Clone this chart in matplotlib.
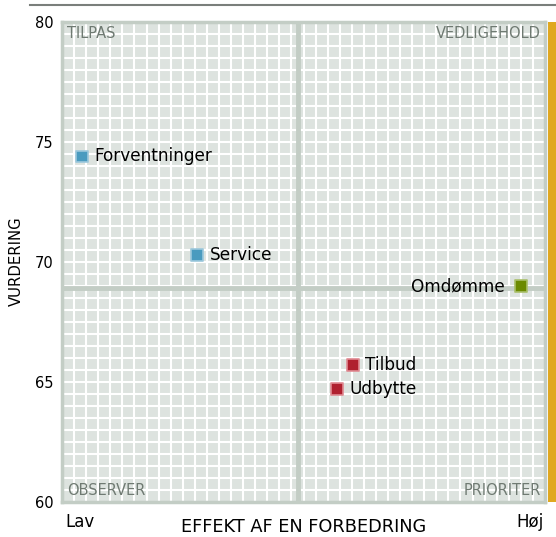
import matplotlib.pyplot as plt
import numpy as np
from matplotlib.patches import Rectangle

# data
names = ["Forventninger", "Service", "Omdømme", "Tilbud", "Udbytte"]
effekt = [4.1, 28.0, 95.0, 60.2, 56.9]
vurdering = [74.4, 70.3, 69.0, 65.7, 64.7]
colors = ["#4a9bbf", "#4a9bbf", "#6b8a00", "#b0202f", "#b0202f"]
edges = ["#9cc8dc", "#9cc8dc", "#a9bf6a", "#e08a92", "#e08a92"]
quadrants = ["TILPAS", "VEDLIGEHOLD", "OBSERVER", "PRIORITER"]
yticks = [60, 65, 70, 75, 80]
x_split, y_split = 48.9, 68.9

fig = plt.figure(figsize=(5.56, 5.37), dpi=100)
ax = fig.add_axes([62/556, 35/537, 483/556, 480/537])
ax.set_xlim(0, 100)
ax.set_ylim(60, 80)
ax.set_facecolor("#dde3df")

# white grid
for gx in np.arange(2.5, 100, 2.5):
    ax.axvline(gx, color="white", lw=1.5, zorder=1)
for gy in np.arange(60.5, 80, 0.5):
    ax.axhline(gy, color="white", lw=1.5, zorder=1)

# quadrant dividers
ax.axvline(x_split, color="#c3cdc5", lw=3.5, zorder=2)
ax.axhline(y_split, color="#c3cdc5", lw=3.5, zorder=2)

for s in ax.spines.values():
    s.set_color("#c3cdc5")
    s.set_linewidth(2.5)

ax.scatter(effekt, vurdering, marker="s", s=70, c=colors, edgecolors=edges,
           linewidths=1.2, zorder=5)
for i, n in enumerate(names):
    if n == "Omdømme":
        ax.text(effekt[i] - 3.3, vurdering[i], n, ha="right", va="center",
                fontsize=12.2, zorder=6)
    else:
        ax.text(effekt[i] + 2.6, vurdering[i], n, ha="left", va="center",
                fontsize=12.2, zorder=6)

qc = "#6f7a72"
qfs = 10.5
ax.text(1.0, 79.85, quadrants[0], ha="left", va="top", fontsize=qfs, color=qc, zorder=6)
ax.text(99.2, 79.85, quadrants[1], ha="right", va="top", fontsize=qfs, color=qc, zorder=6)
ax.text(1.0, 60.15, quadrants[2], ha="left", va="bottom", fontsize=qfs, color=qc, zorder=6)
ax.text(99.2, 60.15, quadrants[3], ha="right", va="bottom", fontsize=qfs, color=qc, zorder=6)

ax.set_xticks([])
ax.set_yticks(yticks)
ax.set_yticklabels([str(t) for t in yticks], fontsize=10.5)
ax.tick_params(axis="y", length=0, pad=6)

fig.text(16/556, 1 - 261/537, "VURDERING", rotation=90, ha="center", va="center", fontsize=10.7)
fig.text(304/556, 1 - 527/537, "EFFEKT AF EN FORBEDRING", ha="center", va="center", fontsize=12.8)
fig.text(80/556, 1 - 522/537, "Lav", ha="center", va="center", fontsize=12)
fig.text(530/556, 1 - 522/537, "Høj", ha="center", va="center", fontsize=12)

# orange bar and top rule
fig.add_artist(Rectangle((548/556, 35/537), 8/556, 480/537, transform=fig.transFigure,
                         color="#e0a820", lw=0))
fig.add_artist(plt.Line2D([30/556, 1], [1 - 5/537, 1 - 5/537], transform=fig.transFigure,
                          color="#7a7f7b", lw=1.5))

fig.savefig("out.png", dpi=100)
